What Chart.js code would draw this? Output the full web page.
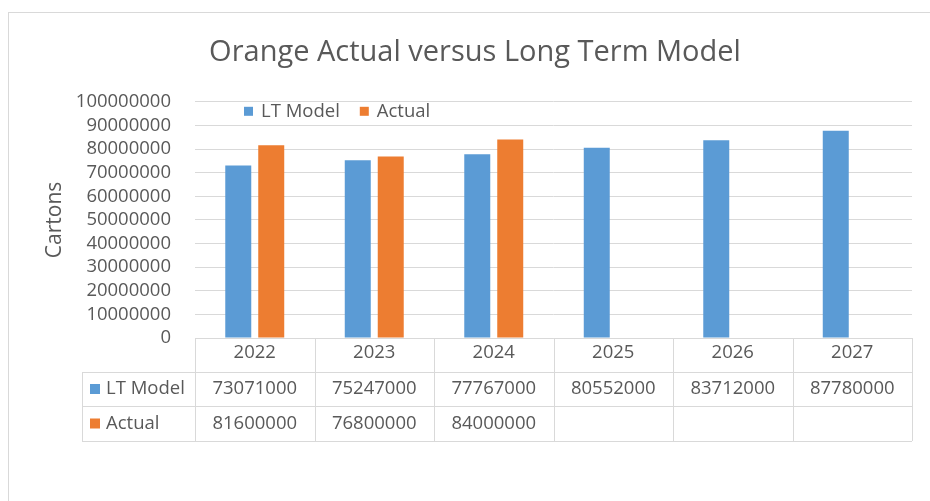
<!DOCTYPE html>
<html>
<head>
<meta charset="utf-8">
<script src="https://cdn.jsdelivr.net/npm/chart.js@4.4.0/dist/chart.umd.min.js"></script>
<style>
  html, body { margin: 0; padding: 0; background: #fff; overflow: hidden; }
  #frame { position: absolute; left: 8px; top: 12px; width: 1000px; height: 600px; border: 1px solid #d9d9d9; }
  #wrap { position: absolute; left: 0; top: 0; width: 930px; height: 501px; }
</style>
</head>
<body>
<div id="frame"></div>
<div id="wrap"><canvas id="chart" width="930" height="501"></canvas></div>
<script>
// chart data
const years = ["2022", "2023", "2024", "2025", "2026", "2027"];
const ltModel = [73071000, 75247000, 77767000, 80552000, 83712000, 87780000];
const actual = [81600000, 76800000, 84000000, null, null, null];
const seriesNames = ["LT Model", "Actual"];
const yMax = 100000000;
const yStep = 10000000;

const blue = "#5b9bd5";
const orange = "#ed7d31";
const textGrey = "#595959";
const lineGrey = "#d9d9d9";
const labelFont = { family: "'Open Sans'", size: 18.5 };

// legend inside the plot + data table under the axis
const tablePlugin = {
  id: "dataTable",
  afterDraw(chart) {
    const ctx = chart.ctx;
    const area = chart.chartArea;
    const colW = (area.right - area.left) / years.length;
    const keyLeft = area.left - 113;
    const rows = [area.bottom, area.bottom + 34, area.bottom + 68, area.bottom + 103];

    ctx.save();
    ctx.strokeStyle = lineGrey;
    ctx.lineWidth = 1;
    ctx.beginPath();
    // horizontal lines
    ctx.moveTo(area.left, Math.round(rows[0]) + 0.5);
    ctx.lineTo(area.right, Math.round(rows[0]) + 0.5);
    for (let r = 1; r < rows.length; r++) {
      ctx.moveTo(keyLeft, Math.round(rows[r]) + 0.5);
      ctx.lineTo(area.right, Math.round(rows[r]) + 0.5);
    }
    // vertical lines
    ctx.moveTo(keyLeft + 0.5, rows[1]);
    ctx.lineTo(keyLeft + 0.5, rows[3]);
    for (let i = 0; i <= years.length; i++) {
      const x = Math.round(area.left + i * colW) + 0.5;
      ctx.moveTo(x, rows[0]);
      ctx.lineTo(x, rows[3]);
    }
    ctx.stroke();

    ctx.font = "18.5px 'Open Sans'";
    ctx.textBaseline = "middle";
    const series = [ltModel, actual];
    const colors = [blue, orange];
    series.forEach((vals, r) => {
      const yMid = (rows[r + 1] + rows[r + 2]) / 2;
      ctx.fillStyle = colors[r];
      ctx.fillRect(keyLeft + 8, yMid - 5, 10, 10);
      ctx.fillStyle = textGrey;
      ctx.textAlign = "left";
      ctx.fillText(seriesNames[r], keyLeft + 24, yMid);
      ctx.textAlign = "center";
      vals.forEach((v, i) => {
        if (v === null) return;
        ctx.fillText(String(v), chart.scales.x.getPixelForValue(i), yMid);
      });
    });

    // legend at the top of the plot
    const ly = area.top + 10;
    let lx = area.left + 49;
    ctx.textAlign = "left";
    seriesNames.forEach((name, r) => {
      ctx.fillStyle = colors[r];
      ctx.fillRect(lx, ly - 5, 9, 9);
      ctx.fillStyle = textGrey;
      ctx.fillText(name, lx + 17, ly);
      lx += 17 + ctx.measureText(name).width + 20;
    });
    ctx.restore();
  }
};

new Chart(document.getElementById("chart"), {
  type: "bar",
  data: {
    labels: years,
    datasets: [
      { label: seriesNames[0], data: ltModel, backgroundColor: blue },
      { label: seriesNames[1], data: actual, backgroundColor: orange }
    ]
  },
  options: {
    responsive: false,
    animation: false,
    devicePixelRatio: 1,
    categoryPercentage: 0.552,
    barPercentage: 0.788,
    layout: { padding: { left: 38, right: 18, top: 0, bottom: 60 } },
    plugins: {
      legend: { display: false },
      tooltip: { enabled: false },
      title: {
        display: true,
        text: "Orange Actual versus Long Term Model",
        color: textGrey,
        font: { family: "'Open Sans'", size: 29, weight: "normal" },
        padding: { top: 35, bottom: 32 }
      }
    },
    scales: {
      x: {
        grid: { display: false, drawTicks: false },
        border: { display: false },
        ticks: { color: textGrey, font: labelFont, padding: 4, maxRotation: 0 },
        afterFit(scale) { scale.height = 103; }
      },
      y: {
        min: 0,
        max: yMax,
        grid: { color: lineGrey, drawTicks: false },
        border: { display: false },
        ticks: {
          stepSize: yStep,
          autoSkip: false,
          padding: 24,
          color: textGrey,
          font: labelFont,
          callback: v => String(v)
        },
        title: {
          display: true,
          text: "Cartons",
          color: textGrey,
          font: { family: "'Open Sans'", size: 21 },
          padding: { top: 4, bottom: 0 }
        },
        afterFit(scale) { scale.width = 157; }
      }
    }
  },
  plugins: [tablePlugin]
});
</script>
</body>
</html>
